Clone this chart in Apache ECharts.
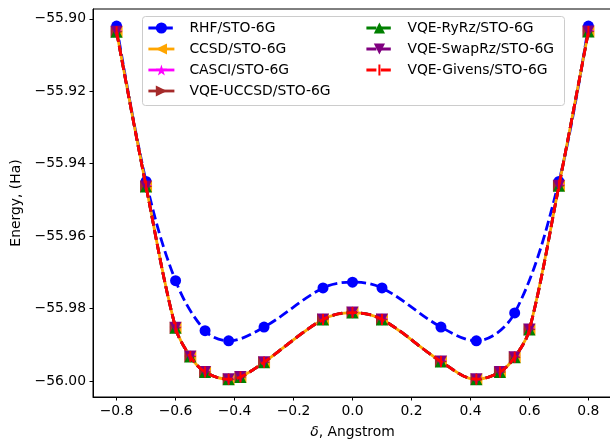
<!DOCTYPE html>
<html><head><meta charset="utf-8">
<script src="https://cdn.jsdelivr.net/npm/echarts@6/dist/echarts.min.js"></script>
<style>html,body{margin:0;padding:0;background:#fff}#c{width:610px;height:440px}</style>
</head><body><div id="c"></div>
<script>
// ---- data ----
const rhfX = [-0.8, -0.7, -0.6, -0.5, -0.42, -0.3, -0.1, 0.0, 0.1, 0.3, 0.42, 0.55, 0.7, 0.8];
const rhfE = [-55.9020, -55.9449, -55.9723, -55.9861, -55.9889, -55.9851, -55.9743, -55.9727, -55.9743, -55.9851, -55.9889, -55.9812, -55.9449, -55.9020];
const corrX = [-0.8, -0.7, -0.6, -0.55, -0.5, -0.42, -0.38, -0.3, -0.1, 0.0, 0.1, 0.3, 0.42, 0.5, 0.55, 0.6, 0.7, 0.8];
// all correlated methods coincide on the picture
const ccsdE   = [-55.9036, -55.9463, -55.9853, -55.9932, -55.9975, -55.9995, -55.9989, -55.9948, -55.9830, -55.9811, -55.9830, -55.9946, -55.9995, -55.9975, -55.9934, -55.9858, -55.9461, -55.9035];
const casciE  = ccsdE.slice();
const uccsdE  = ccsdE.slice();
const ryrzE   = ccsdE.slice();
const swaprzE = ccsdE.slice();
const givensE = ccsdE.slice();
const xTicks = [-0.8, -0.6, -0.4, -0.2, 0.0, 0.2, 0.4, 0.6, 0.8];
const yTicks = [-56.00, -55.98, -55.96, -55.94, -55.92, -55.90];
const seriesNames = ['RHF/STO-6G', 'CCSD/STO-6G', 'CASCI/STO-6G', 'VQE-UCCSD/STO-6G', 'VQE-RyRz/STO-6G', 'VQE-SwapRz/STO-6G', 'VQE-Givens/STO-6G'];

// ---- styles ----
const FONT = 'DejaVu Sans';
const FS = 13.9;
const STAR = 'path://M50,0 L61.2,34.5 L97.6,34.5 L68.2,55.9 L79.4,90.5 L50,69.1 L20.6,90.5 L31.8,55.9 L2.4,34.5 L38.8,34.5 Z';
const VLINE = 'path://M0,0 L0.001,0 L0.001,0.001 Z M10,10 L9.999,10 L9.999,9.999 Z M4.1,0 L5.9,0 L5.9,10 L4.1,10 Z';
const DASH = [10, 4.4];
const styles = [
  {x: rhfX, y: rhfE, color: '#0000ff', symbol: 'circle', rot: 0, dash: DASH, size: 11},
  {x: corrX, y: ccsdE, color: '#ffa500', symbol: 'triangle', rot: 90, dash: 'solid', size: 12},
  {x: corrX, y: casciE, color: '#ff00ff', symbol: STAR, rot: 0, dash: 'solid', size: 12, hideLine: true},
  {x: corrX, y: uccsdE, color: '#a52a2a', symbol: 'triangle', rot: -90, dash: 'solid', size: 12, hideLine: true},
  {x: corrX, y: ryrzE, color: '#008000', symbol: 'triangle', rot: 0, dash: DASH, size: 12},
  {x: corrX, y: swaprzE, color: '#800080', symbol: 'triangle', rot: 180, dash: DASH, size: 12},
  {x: corrX, y: givensE, color: '#ff0000', symbol: VLINE, rot: 0, dash: DASH, size: 11}
];

const series = styles.map((s, i) => ({
  name: seriesNames[i],
  type: 'line',
  data: s.x.map((x, k) => [x, s.y[k]]),
  smooth: 0.35,
  symbol: s.symbol,
  symbolSize: s.size,
  symbolRotate: s.rot,
  showSymbol: true,
  showAllSymbol: true,
  z: 2 + i,
  itemStyle: {color: s.color, borderWidth: 0},
  lineStyle: {color: s.color, width: 2.8, type: s.dash, opacity: s.hideLine ? 0 : 1},
  emphasis: {disabled: true},
  animation: false
}));

const minus = v => (v < 0 ? '\u2212' : '');

const legendItem = (name) => ({name: name, lineStyle: {opacity: 1, width: 2.8}});
const legendBase = {
  orient: 'vertical', padding: 0, itemWidth: 26, itemHeight: 14, itemGap: 7,
  selectedMode: false, z: 20,
  textStyle: {fontFamily: FONT, fontSize: FS, color: '#000', padding: [0, 0, 0, 10]},
  lineStyle: {width: 2.8}
};

const option = {
  animation: false,
  backgroundColor: '#fff',
  grid: {left: 93, right: -2, top: 9, bottom: 43, show: true, borderColor: '#000', borderWidth: 1,
         containLabel: false, outerBoundsMode: 'none'},
  xAxis: {
    type: 'value', min: -0.88, max: 0.88,
    name: '{i|\u03b4}, Angstrom', nameLocation: 'middle', nameGap: 28,
    nameTextStyle: {fontFamily: FONT, fontSize: FS, color: '#000',
      rich: {i: {fontFamily: FONT, fontSize: FS, fontStyle: 'italic', color: '#000'}}},
    splitLine: {show: false},
    axisLine: {show: true, onZero: false, lineStyle: {color: '#000', width: 1}},
    axisTick: {show: true, inside: false, length: 3.5, lineStyle: {color: '#000', width: 1}, customValues: xTicks},
    axisLabel: {margin: 7, fontFamily: FONT, fontSize: FS, color: '#000', customValues: xTicks,
      formatter: v => minus(v) + Math.abs(v).toFixed(1)}
  },
  yAxis: {
    type: 'value', min: -56.0044, max: -55.8973,
    name: 'Energy, (Ha)', nameLocation: 'middle', nameGap: 67,
    nameTextStyle: {fontFamily: FONT, fontSize: FS, color: '#000'},
    splitLine: {show: false},
    axisLine: {show: true, onZero: false, lineStyle: {color: '#000', width: 1}},
    axisTick: {show: true, inside: false, length: 3.5, lineStyle: {color: '#000', width: 1}, customValues: yTicks},
    axisLabel: {margin: 7, fontFamily: FONT, fontSize: FS, color: '#000', customValues: yTicks,
      formatter: v => minus(v) + Math.abs(v).toFixed(2)}
  },
  legend: [
    Object.assign({}, legendBase, {left: 147, top: 21, data: seriesNames.slice(0, 4).map(legendItem)}),
    Object.assign({}, legendBase, {left: 365, top: 21, data: seriesNames.slice(4).map(legendItem)})
  ],
  graphic: [{
    type: 'rect', z: 10, silent: true,
    shape: {x: 142.5, y: 16.5, width: 422, height: 89, r: 3},
    style: {fill: 'rgba(255,255,255,0.8)', stroke: '#cccccc', lineWidth: 1}
  }],
  series: series
};

const chart = echarts.init(document.getElementById('c'), null, {renderer: 'canvas'});
chart.setOption(option);
</script>
</body></html>
